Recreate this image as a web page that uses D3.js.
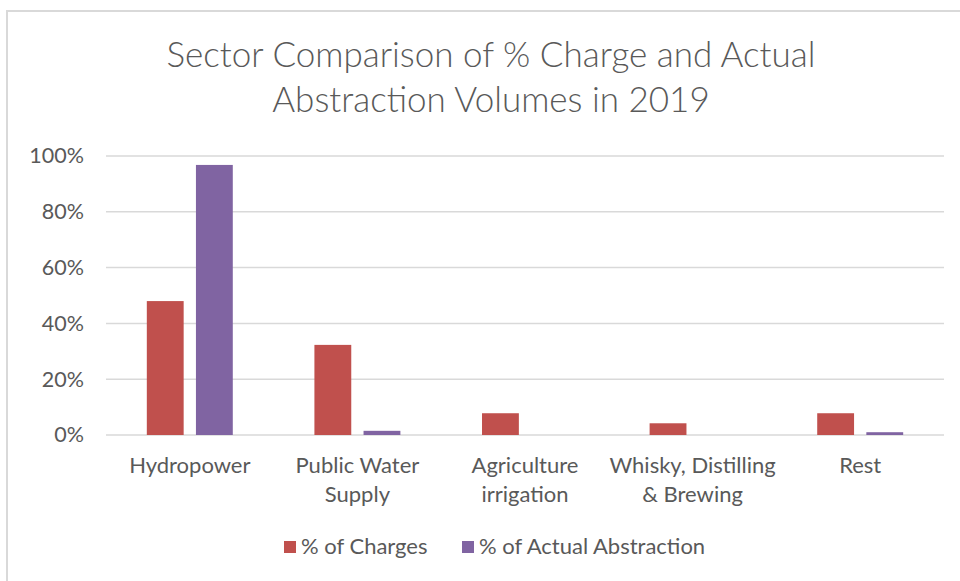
<!DOCTYPE html>
<html>
<head>
<meta charset="utf-8">
<script src="https://cdn.jsdelivr.net/npm/d3@7"></script>
<style>
  body { margin: 0; background: #fff; }
  svg { display: block; }
  text { font-family: Lato, sans-serif; fill: #595959; }
</style>
</head>
<body>
<svg id="chart"></svg>
<script>
// chart data
const categories = ["Hydropower", "Public Water\nSupply", "Agriculture\nirrigation", "Whisky, Distilling\n& Brewing", "Rest"];
const seriesNames = ["% of Charges", "% of Actual Abstraction"];
const charges = [0.48, 0.323, 0.078, 0.042, 0.078];
const abstraction = [0.968, 0.015, 0, 0, 0.01];
const yTicks = [0, 0.2, 0.4, 0.6, 0.8, 1.0];
const colors = ["#c0504d", "#8064a2"];

const width = 960, height = 581;
const margin = {top: 156, right: 16, bottom: 146, left: 106};

const svg = d3.select("#chart")
    .attr("width", width)
    .attr("height", height);

// outer frame (top and left edges visible)
svg.append("path")
    .attr("d", `M7,${height} V11 H${width}`)
    .attr("fill", "none")
    .attr("stroke", "#d9d9d9")
    .attr("stroke-width", 2);

const x0 = d3.scaleBand()
    .domain(categories)
    .range([margin.left, width - margin.right])
    .paddingInner(0.487)
    .paddingOuter(0.2435);

const x1 = d3.scaleBand()
    .domain(seriesNames)
    .range([0, x0.bandwidth()])
    .paddingInner(0.25);

const y = d3.scaleLinear()
    .domain([0, 1])
    .range([height - margin.bottom, margin.top]);

// gridlines
svg.append("g")
    .selectAll("line")
    .data(yTicks)
    .join("line")
    .attr("x1", margin.left)
    .attr("x2", width - margin.right)
    .attr("y1", d => y(d))
    .attr("y2", d => y(d))
    .attr("stroke", "#d9d9d9")
    .attr("stroke-width", 1.5);

// y axis labels
const yAxis = d3.axisLeft(y)
    .tickValues(yTicks)
    .tickFormat(d3.format(".0%"))
    .tickSize(0)
    .tickPadding(22);

svg.append("g")
    .attr("transform", `translate(${margin.left},0)`)
    .call(yAxis)
    .call(g => g.select(".domain").remove())
    .selectAll("text")
    .attr("font-size", 21.5)
    .attr("font-family", "Lato, sans-serif")
    .attr("fill", "#595959");

// bars
const rows = categories.map((c, i) => ({cat: c, values: [charges[i], abstraction[i]]}));

const group = svg.append("g")
    .selectAll("g")
    .data(rows)
    .join("g")
    .attr("transform", d => `translate(${x0(d.cat)},0)`);

group.selectAll("rect")
    .data(d => d.values.map((v, j) => ({key: seriesNames[j], value: v, j: j})))
    .join("rect")
    .attr("x", d => x1(d.key))
    .attr("width", x1.bandwidth())
    .attr("y", d => y(d.value))
    .attr("height", d => y(0) - y(d.value))
    .attr("fill", d => colors[d.j]);

// category labels
const catLabels = svg.append("g")
    .selectAll("text")
    .data(categories)
    .join("text")
    .attr("x", d => x0(d) + x0.bandwidth() / 2)
    .attr("y", 473)
    .attr("text-anchor", "middle")
    .attr("font-size", 22);

catLabels.selectAll("tspan")
    .data(d => d.split("\n"))
    .join("tspan")
    .attr("x", function() { return this.parentNode.getAttribute("x"); })
    .attr("dy", (d, i) => i === 0 ? 0 : 29)
    .text(d => d);

// title
const title = svg.append("text")
    .attr("x", 491)
    .attr("y", 67)
    .attr("text-anchor", "middle")
    .attr("font-size", 35)
    .attr("font-weight", 300);

title.append("tspan").attr("x", 491).text("Sector Comparison of % Charge and Actual");
title.append("tspan").attr("x", 491).attr("dy", 45).text("Abstraction Volumes in 2019");

// legend
const legendX = [284, 462];
const legend = svg.append("g")
    .selectAll("g")
    .data(seriesNames)
    .join("g")
    .attr("transform", (d, i) => `translate(${legendX[i]},541)`);

legend.append("rect")
    .attr("width", 12)
    .attr("height", 12)
    .attr("fill", (d, i) => colors[i]);

legend.append("text")
    .attr("x", 17)
    .attr("y", 13)
    .attr("font-size", 22)
    .text(d => d);
</script>
</body>
</html>
